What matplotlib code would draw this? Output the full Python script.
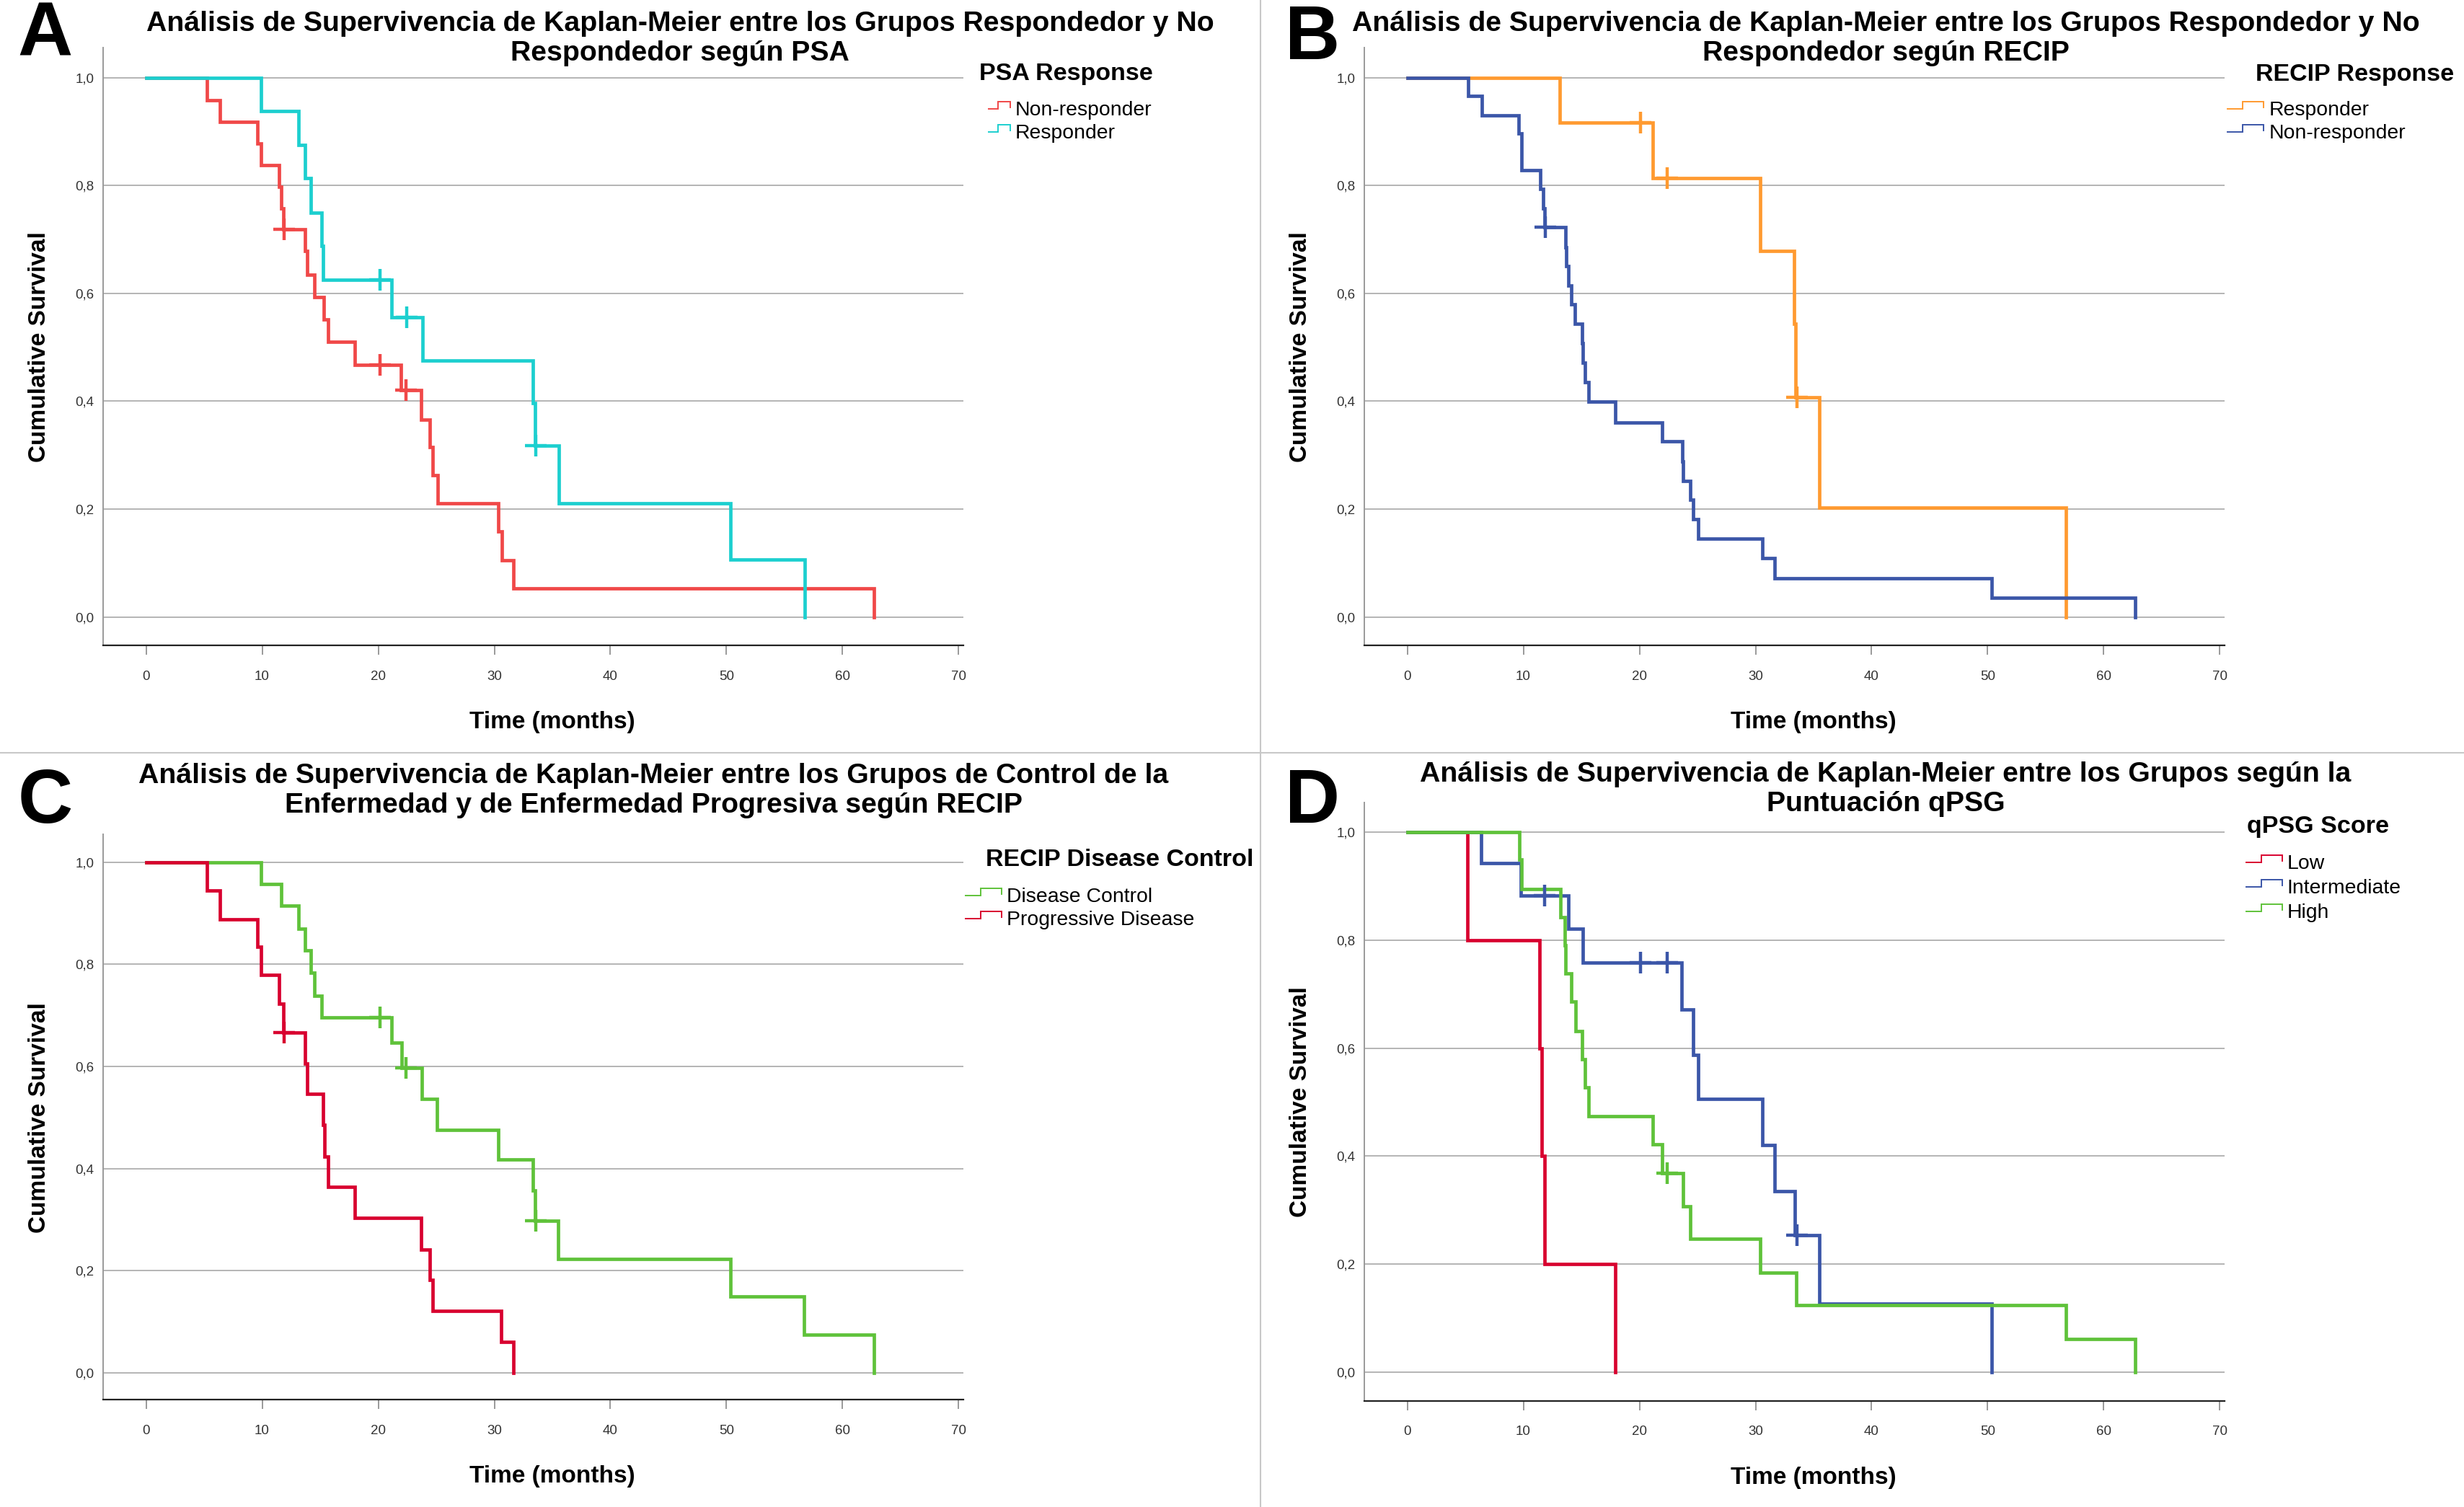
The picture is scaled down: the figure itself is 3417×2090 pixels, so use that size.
import numpy as np
import matplotlib
matplotlib.use('Agg')
import matplotlib.pyplot as plt
from matplotlib.lines import Line2D
from matplotlib.legend_handler import HandlerBase
from matplotlib.ticker import FuncFormatter

plt.rcParams['font.family'] = ['Liberation Sans', 'DejaVu Sans']

# ---- data (months, cumulative survival after each event, censor times) ----
# A: PSA response
a_nonresp_t = [5.25, 6.38, 9.57, 9.88, 11.47, 11.66, 11.80, 13.70, 13.88, 14.50, 15.32, 15.66,
               17.96, 21.96, 23.72, 24.43, 24.66, 25.11, 30.37, 30.64, 31.63, 62.70]
a_nonresp_s = [0.958, 0.918, 0.878, 0.838, 0.798, 0.758, 0.719, 0.678, 0.634, 0.593, 0.551, 0.510,
               0.467, 0.420, 0.366, 0.315, 0.263, 0.210, 0.158, 0.105, 0.053, 0.0]
a_nonresp_c = [11.90, 20.15, 22.36]
a_resp_t = [9.93, 13.16, 13.68, 14.16, 15.10, 15.23, 21.12, 23.79, 33.34, 33.53, 35.56, 50.35, 56.72]
a_resp_s = [0.938, 0.875, 0.813, 0.750, 0.688, 0.625, 0.556, 0.476, 0.396, 0.317, 0.211, 0.106, 0.0]
a_resp_c = [20.15, 22.43, 33.60]

# B: RECIP response
b_resp_t = [13.16, 21.12, 30.39, 33.30, 33.42, 35.50, 56.72]
b_resp_s = [0.916, 0.814, 0.679, 0.543, 0.407, 0.203, 0.0]
b_resp_c = [20.10, 22.38, 33.55]
b_nonresp_t = [5.27, 6.40, 9.59, 9.83, 9.87, 11.45, 11.68, 11.80, 13.63, 13.68, 13.87, 14.11, 14.46,
               15.06, 15.13, 15.30, 15.60, 17.91, 21.95, 23.69, 23.78, 24.38, 24.60, 25.09, 30.58,
               31.65, 50.35, 62.70]
b_nonresp_s = [0.966, 0.930, 0.896, 0.862, 0.828, 0.794, 0.757, 0.723, 0.685, 0.650, 0.614, 0.579,
               0.544, 0.508, 0.471, 0.435, 0.399, 0.361, 0.325, 0.288, 0.252, 0.217, 0.181, 0.145,
               0.109, 0.072, 0.036, 0.0]
b_nonresp_c = [11.90]

# C: RECIP disease control
c_dc_t = [9.93, 11.66, 13.14, 13.68, 14.16, 14.51, 15.10, 21.12, 22.00, 23.78, 25.08, 30.36, 33.33,
          33.52, 35.50, 50.32, 56.69, 62.68]
c_dc_s = [0.958, 0.915, 0.870, 0.827, 0.784, 0.739, 0.696, 0.646, 0.597, 0.537, 0.476, 0.418, 0.357,
          0.298, 0.223, 0.150, 0.074, 0.0]
c_dc_c = [20.14, 22.40, 33.56]
c_pd_t = [5.25, 6.39, 9.57, 9.88, 11.47, 11.80, 13.68, 13.87, 15.23, 15.37, 15.65, 17.96, 23.70,
          24.42, 24.66, 30.62, 31.62]
c_pd_s = [0.944, 0.888, 0.834, 0.779, 0.723, 0.667, 0.606, 0.546, 0.485, 0.424, 0.364, 0.303, 0.242,
          0.182, 0.121, 0.060, 0.0]
c_pd_c = [11.90]

# D: qPSG score
d_low_t = [5.19, 11.42, 11.61, 11.80, 17.91]
d_low_s = [0.8, 0.6, 0.4, 0.2, 0.0]
d_low_c = []
d_int_t = [6.38, 9.76, 13.87, 15.13, 23.66, 24.61, 25.09, 30.58, 31.65, 33.36, 35.50, 50.35]
d_int_s = [0.942, 0.883, 0.821, 0.758, 0.672, 0.588, 0.506, 0.420, 0.335, 0.253, 0.127, 0.0]
d_int_c = [11.85, 20.10, 22.38, 33.55]
d_high_t = [9.64, 9.87, 13.20, 13.58, 13.65, 14.11, 14.51, 15.06, 15.30, 15.60, 21.12, 21.95, 23.78,
            24.38, 30.39, 33.48, 56.72, 62.70]
d_high_s = [0.949, 0.895, 0.843, 0.790, 0.738, 0.686, 0.632, 0.580, 0.527, 0.474, 0.422, 0.369, 0.307,
            0.247, 0.184, 0.124, 0.062, 0.0]
d_high_c = [22.38]

RED = '#f04848'
CYAN = '#1ccfcf'
ORANGE = '#ff9a30'
BLUE = '#3b56a8'
GREEN = '#5fc23a'
CRIMSON = '#d8002f'

panels = [
    dict(letter='A', pos=[0.04185, 0.5717, 0.3491, 0.3965],
         title=u'Análisis de Supervivencia de Kaplan-Meier entre los Grupos Respondedor y No\nRespondedor según PSA',
         title_xy=(0.2760, 0.9745), letter_xy=(0.0184, 0.9760),
         leg_title='PSA Response', leg_title_xy=(0.3974, 0.9508), leg_xy=(0.4012, 0.9330),
         hlen=1.06, rowsp=0.2,
         series=[('Non-responder', a_nonresp_t, a_nonresp_s, a_nonresp_c, RED),
                 ('Responder', a_resp_t, a_resp_s, a_resp_c, CYAN)]),
    dict(letter='B', pos=[0.5537, 0.5717, 0.3491, 0.3965],
         title=u'Análisis de Supervivencia de Kaplan-Meier entre los Grupos Respondedor y No\nRespondedor según RECIP',
         title_xy=(0.7653, 0.9745), letter_xy=(0.5327, 0.9740),
         leg_title='RECIP Response', leg_title_xy=(0.9155, 0.9505), leg_xy=(0.9041, 0.9330),
         hlen=1.77, rowsp=0.2,
         series=[('Responder', b_resp_t, b_resp_s, b_resp_c, ORANGE),
                 ('Non-responder', b_nonresp_t, b_nonresp_s, b_nonresp_c, BLUE)]),
    dict(letter='C', pos=[0.04185, 0.0711, 0.3491, 0.3754],
         title=u'Análisis de Supervivencia de Kaplan-Meier entre los Grupos de Control de la\nEnfermedad y de Enfermedad Progresiva según RECIP',
         title_xy=(0.2652, 0.4752), letter_xy=(0.0184, 0.4674),
         leg_title='RECIP Disease Control', leg_title_xy=(0.4000, 0.4294), leg_xy=(0.3918, 0.4109),
         hlen=1.77, rowsp=0.2,
         series=[('Disease Control', c_dc_t, c_dc_s, c_dc_c, GREEN),
                 ('Progressive Disease', c_pd_t, c_pd_s, c_pd_c, CRIMSON)]),
    dict(letter='D', pos=[0.5537, 0.0705, 0.3491, 0.3971],
         title=u'Análisis de Supervivencia de Kaplan-Meier entre los Grupos según la\nPuntuación qPSG',
         title_xy=(0.7653, 0.4762), letter_xy=(0.5327, 0.4674),
         leg_title='qPSG Score', leg_title_xy=(0.9120, 0.4512), leg_xy=(0.9115, 0.4329),
         hlen=1.77, rowsp=0.27,
         series=[('Low', d_low_t, d_low_s, d_low_c, CRIMSON),
                 ('Intermediate', d_int_t, d_int_s, d_int_c, BLUE),
                 ('High', d_high_t, d_high_s, d_high_c, GREEN)]),
]


class StepHandler(HandlerBase):
    """legend glyph shaped like a little survival step"""
    def create_artists(self, legend, orig_handle, xdescent, ydescent, width, height, fontsize, trans):
        fx = [0.0, 0.42, 0.42, 1.0, 1.0]
        fy = [0.45, 0.45, 0.95, 0.95, 0.55]
        ln = Line2D([-xdescent + width * v for v in fx], [-ydescent + height * v for v in fy],
                    color=orig_handle.get_color(), lw=1.4, solid_joinstyle='miter')
        ln.set_transform(trans)
        return [ln]


def surv_at(t, s, c):
    i = np.searchsorted(np.asarray(t), c, side='right') - 1
    return 1.0 if i < 0 else s[i]


fig = plt.figure(figsize=(34.17, 20.90), dpi=100)

comma = FuncFormatter(lambda v, p: ('%.1f' % v).replace('.', ','))

for p in panels:
    ax = fig.add_axes(p['pos'])
    handles = []
    for name, t, s, c, col in p['series']:
        tt = [0.0] + list(t)
        ss = [1.0] + list(s)
        ln, = ax.step(tt, ss, where='post', color=col, lw=3.4, solid_joinstyle='miter', zorder=3)
        if len(c):
            cy = [surv_at(t, s, v) for v in c]
            ax.plot(c, cy, ls='none', marker='+', ms=21, mew=3.2, color=col, zorder=4)
        handles.append(ln)

    ax.set_xlim(-3.7, 70.4)
    ax.set_ylim(-0.053, 1.055)
    ax.set_xticks(np.arange(0, 71, 10))
    ax.set_yticks(np.arange(0, 1.01, 0.2))
    ax.yaxis.set_major_formatter(comma)
    ax.grid(True, axis='y', color='#b4b4b4', lw=1.4)
    ax.set_axisbelow(True)
    for sp in ['top', 'right']:
        ax.spines[sp].set_visible(False)
    ax.spines['left'].set_color('#9a9a9a')
    ax.spines['left'].set_linewidth(1.4)
    ax.spines['bottom'].set_color('#222222')
    ax.spines['bottom'].set_linewidth(1.6)
    ax.tick_params(axis='y', length=0, pad=9, labelsize=13.5, labelcolor='#333333')
    ax.tick_params(axis='x', length=9, width=1.4, color='#9a9a9a', pad=16, labelsize=13.5,
                   labelcolor='#333333')

    hpx = p['pos'][3] * 2090
    ax.set_xlabel('Time (months)', fontsize=24, fontweight='bold', labelpad=0)
    ax.xaxis.set_label_coords((35 + 3.7) / (70.4 + 3.7), -91.0 / hpx)
    ax.set_ylabel('Cumulative Survival', fontsize=24, fontweight='bold')
    ax.yaxis.set_label_coords(-0.061, (0.5 + 0.053) / 1.108)

    leg = ax.legend(handles, [x[0] for x in p['series']], handler_map={Line2D: StepHandler()},
                    loc='upper left', bbox_to_anchor=p['leg_xy'], bbox_transform=fig.transFigure,
                    frameon=False, fontsize=20.4, handlelength=p['hlen'], handleheight=0.7,
                    handletextpad=0.25, labelspacing=p['rowsp'], borderpad=0, borderaxespad=0)

    fig.text(p['leg_title_xy'][0], p['leg_title_xy'][1], p['leg_title'], fontsize=24.5,
             fontweight='bold', ha='left', va='center')
    fig.text(p['title_xy'][0], p['title_xy'][1], p['title'], fontsize=28.3, fontweight='bold',
             ha='center', va='center', multialignment='center', linespacing=1.18)
    fig.text(p['letter_xy'][0], p['letter_xy'][1], p['letter'], fontsize=76, fontweight='heavy',
             ha='center', va='center')

# panel separators
fig.add_artist(Line2D([0.5116, 0.5116], [0, 1], transform=fig.transFigure, color='#c8c8c8', lw=1.5))
fig.add_artist(Line2D([0, 1], [0.5005, 0.5005], transform=fig.transFigure, color='#c8c8c8', lw=1.5))

fig.savefig('out.png', dpi=100, facecolor='white')
